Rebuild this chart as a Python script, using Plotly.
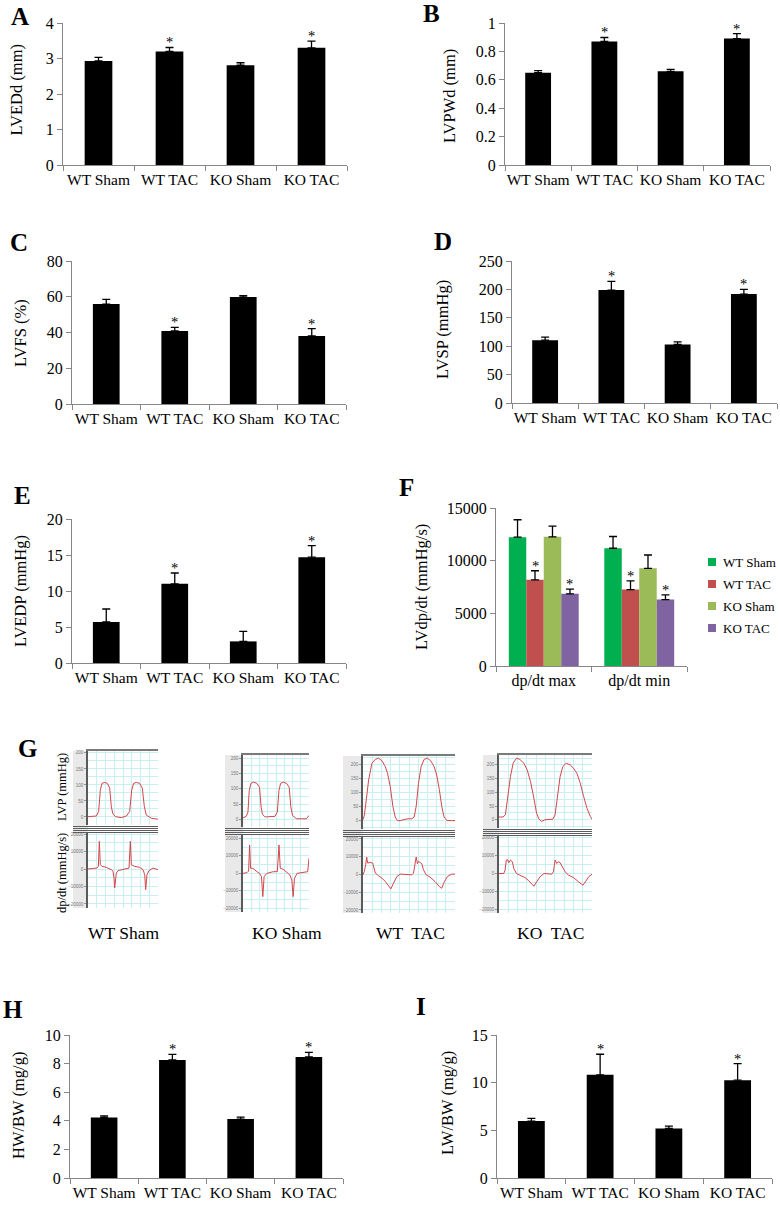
import plotly.graph_objects as go

W, H = 780, 1205
SERIF = "Liberation Serif"
AX = "#868686"
GRID = "#c8eff2"
WAVE = "#d6454a"

# ---------------- data ----------------
groups = ["WT Sham", "WT TAC", "KO Sham", "KO TAC"]
significant = [False, True, False, True]

lvedd = [2.93, 3.20, 2.81, 3.30]
lvedd_err = [0.10, 0.11, 0.07, 0.19]
lvpwd = [0.650, 0.870, 0.660, 0.890]
lvpwd_err = [0.014, 0.028, 0.014, 0.035]
lvfs = [55.9, 40.9, 59.8, 38.1]
lvfs_err = [2.6, 2.0, 0.8, 4.1]
lvsp = [110.6, 198.8, 103.0, 191.8]
lvsp_err = [5.3, 15.2, 4.7, 8.2]
lvedp = [5.7, 11.0, 3.0, 14.7]
lvedp_err = [1.8, 1.5, 1.4, 1.6]
hw_bw = [4.23, 8.26, 4.12, 8.47]
hw_bw_err = [0.12, 0.39, 0.14, 0.32]
lw_bw = [5.97, 10.82, 5.20, 10.26]
lw_bw_err = [0.28, 2.16, 0.24, 1.74]

dpdt_categories = ["dp/dt max", "dp/dt min"]
dpdt_series = ["WT Sham", "WT TAC", "KO Sham", "KO TAC"]
dpdt_colors = ["#00B050", "#C0504D", "#9BBB59", "#8064A2"]
dpdt_wt_sham = [12230, 11180]
dpdt_wt_sham_err = [1655, 1115]
dpdt_wt_tac = [8185, 7260]
dpdt_wt_tac_err = [860, 830]
dpdt_ko_sham = [12260, 9270]
dpdt_ko_sham_err = [1020, 1270]
dpdt_ko_tac = [6850, 6310]
dpdt_ko_tac_err = [445, 445]
dpdt_sig = [[False, False], [True, True], [False, False], [True, True]]

# representative traces (time as fraction of window, LVP in mmHg, dp/dt in mmHg/s)
wt_sham_lvp_t = [0, .119, .152, .176, .2, .238, .276, .310, .333, .357, .395, .476, .548,
                 .595, .624, .652, .690, .738, .776, .805, .833, .905, 1.0]
wt_sham_lvp = [1, 3, 17, 84, 105, 108, 105, 90, 32, 9, 1, -2, 3, 17, 84, 105, 108, 105,
               90, 32, 6, -4, -7]
wt_sham_dp_t = [0, .071, .129, .148, .162, .176, .2, .262, .333, .357, .371, .381, .39, .405,
                .429, .476, .548, .586, .605, .619, .667, .738, .786, .810, .824, .843, .871,
                .929, 1.0]
wt_sham_dp = [0, 190, 571, 1520, 15800, 2480, 1520, 950, -380, -1330, -5140, -10860, -5140,
              -2290, -950, -380, 190, 571, 15800, 2480, 1520, 950, -380, -3240, -11800, -3240,
              -950, 571, -380]

ko_sham_lvp_t = [0, .05, .075, .095, .12, .16, .21, .25, .275, .295, .335, .41, .485, .52,
                 .545, .57, .61, .66, .7, .725, .75, .81, .96, 1.0]
ko_sham_lvp = [5, 10, 24, 95, 118, 122, 118, 105, 40, 16, 8, 8, 10, 24, 95, 118, 122, 118,
               105, 40, 13, 2, 2, 13]
ko_sham_dp_t = [0, .06, .085, .1, .115, .15, .21, .25, .28, .3, .32, .36, .46, .52, .545,
                .565, .61, .675, .71, .74, .76, .78, .82, .98, 1.0]
ko_sham_dp = [0, 380, 1330, 16200, 2860, 2860, 950, 0, -1900, -13300, -1900, 0, 950, 950,
              16200, 2860, 2290, 380, -950, -3800, -13300, -2860, 0, 950, 8570]

wt_tac_lvp_t = [0, .014, .036, .061, .097, .134, .170, .206, .242, .267, .296, .325, .350,
                .375, .404, .440, .477, .531, .556, .578, .603, .632, .664, .700, .736, .773,
                .801, .830, .856, .881, .910, .964, 1.0]
wt_tac_lvp = [4, 18, 75, 146, 206, 220, 224, 215, 194, 170, 123, 51, 13, 0, 0, 4, 6, 7, 13,
              51, 134, 194, 220, 224, 215, 194, 164, 111, 51, 13, 1, 0, 0]
wt_tac_dp_t = [0, .014, .029, .040, .051, .065, .079, .105, .116, .134, .170, .206, .242,
               .278, .303, .332, .368, .404, .477, .531, .549, .567, .578, .592, .603, .621,
               .639, .657, .686, .729, .783, .830, .856, .881, .917, .964, 1.0]
wt_tac_dp = [-190, 1700, 5470, 9810, 6420, 6790, 6790, 6420, 3590, 750, -750, -2080, -3960,
             -6790, -8110, -4910, -1130, 190, -190, -190, 750, 5470, 9810, 6040, 7360, 6790,
             6040, 2640, -190, -1510, -3960, -6790, -7740, -4530, -1130, 190, 190]

ko_tac_lvp_t = [0, .043, .069, .097, .123, .152, .188, .224, .267, .303, .339, .375, .404,
                .430, .458, .495, .549, .578, .603, .628, .657, .686, .722, .765, .801, .838,
                .874, .910, .946, .982, 1.0]
ko_tac_lvp = [10, 10, 18, 85, 157, 206, 224, 220, 206, 182, 139, 79, 24, 2, -6, 0, 0, 2, 18,
              85, 157, 194, 206, 200, 188, 169, 133, 85, 42, 12, 2]
ko_tac_dp_t = [0, .051, .065, .079, .090, .105, .123, .144, .159, .188, .224, .278, .314,
               .350, .375, .404, .440, .484, .531, .567, .585, .603, .621, .639, .657, .682,
               .711, .747, .801, .856, .903, .928, .964, 1.0]
ko_tac_dp = [0, 0, 1870, 7480, 7850, 5980, 7480, 6540, 2800, 0, -930, -2240, -3740, -5980,
             -7100, -4670, -1870, 0, 0, -370, 930, 7480, 5610, 6540, 5980, 3740, 930, -930,
             -2240, -4670, -6540, -4670, -1870, -370]

# ---------------- helpers ----------------
fig = go.Figure()
layout = {}
shapes = []
annotations = []
counter = [0]


def new_n():
    counter[0] += 1
    return counter[0]


def xr(n):
    return "x" if n == 1 else f"x{n}"


def yr(n):
    return "y" if n == 1 else f"y{n}"


def xk(n):
    return "xaxis" if n == 1 else f"xaxis{n}"


def yk(n):
    return "yaxis" if n == 1 else f"yaxis{n}"


def px(x):
    return x / W


def py(y):
    return 1 - y / H


def text(x, y, s, size, bold=False, angle=0, xanchor="center"):
    annotations.append(dict(x=px(x), y=py(y), xref="paper", yref="paper", text=f"<b>{s}</b>" if bold else s,
                            showarrow=False, textangle=angle, xanchor=xanchor, yanchor="middle",
                            font=dict(family=SERIF, size=size, color="black")))


def bar_axes(n, x0, x1, ytop, ybot, ymax, dtick, cats, fsize=15.5):
    layout[xk(n)] = dict(domain=[px(x0), px(x1)], anchor=yr(n), type="category",
                         range=[-0.5, len(cats) - 0.5], tickson="boundaries", ticks="outside",
                         ticklen=5, tickcolor=AX, showline=True, linecolor=AX, linewidth=1,
                         tickangle=0, automargin=False,
                         tickfont=dict(size=fsize, family=SERIF, color="black"), showgrid=False,
                         zeroline=False, fixedrange=True)
    layout[yk(n)] = dict(domain=[py(ybot), py(ytop)], anchor=xr(n), range=[0, ymax], dtick=dtick,
                         tickformat="d" if dtick >= 1 else None, ticks="outside", ticklen=5,
                         tickcolor=AX, showline=True, linecolor=AX, linewidth=1, automargin=False,
                         tickfont=dict(size=16, family=SERIF, color="black"), showgrid=False,
                         zeroline=False, fixedrange=True)


def bar_panel(values, errs, x0, x1, ytop, ybot, ymax, dtick):
    n = new_n()
    fig.add_trace(go.Bar(x=groups, y=values, width=0.39, marker=dict(color="black", line=dict(width=0)),
                         error_y=dict(type="data", symmetric=False, array=errs,
                                      arrayminus=[0] * len(errs), color="black", thickness=1.3, width=4),
                         xaxis=xr(n), yaxis=yr(n), showlegend=False))
    for g, v, e, s in zip(groups, values, errs, significant):
        if s:
            annotations.append(dict(x=g, y=v + e, xref=xr(n), yref=yr(n), text="*", showarrow=False,
                                    yanchor="bottom", yshift=-5,
                                    font=dict(size=14.5, family=SERIF, color="black")))
    bar_axes(n, x0, x1, ytop, ybot, ymax, dtick, groups)


# ---------------- bar panels ----------------
bar_panel(lvedd, lvedd_err, 63, 347, 23, 165, 4, 1)
bar_panel(lvpwd, lvpwd_err, 505, 770, 23, 165, 1, 0.2)
bar_panel(lvfs, lvfs_err, 72, 346, 261, 404, 80, 20)
bar_panel(lvsp, lvsp_err, 512, 777, 261, 403, 250, 50)
bar_panel(lvedp, lvedp_err, 72, 346, 519, 663, 20, 5)
bar_panel(hw_bw, hw_bw_err, 70, 343, 1035, 1178, 10, 2)
bar_panel(lw_bw, lw_bw_err, 497, 772, 1035, 1178, 15, 5)

# ---------------- panel F ----------------
nF = new_n()
series_vals = [dpdt_wt_sham, dpdt_wt_tac, dpdt_ko_sham, dpdt_ko_tac]
series_errs = [dpdt_wt_sham_err, dpdt_wt_tac_err, dpdt_ko_sham_err, dpdt_ko_tac_err]
bw = 0.183
for i, (name, col, vals, errs) in enumerate(zip(dpdt_series, dpdt_colors, series_vals, series_errs)):
    off = -2 * bw + i * bw
    fig.add_trace(go.Bar(x=dpdt_categories, y=vals, width=bw, offset=off, name=name,
                         marker=dict(color=col, line=dict(width=0)),
                         error_y=dict(type="data", symmetric=False, array=errs,
                                      arrayminus=[0] * len(errs), color="black", thickness=1.3, width=4),
                         xaxis=xr(nF), yaxis=yr(nF), showlegend=False))
    for ci, (v, e) in enumerate(zip(vals, errs)):
        if dpdt_sig[i][ci]:
            annotations.append(dict(x=ci + off + bw / 2, y=v + e, xref=xr(nF), yref=yr(nF), text="*",
                                    showarrow=False, yanchor="bottom", yshift=-5,
                                    font=dict(size=14.5, family=SERIF, color="black")))
    # legend entry (square swatch + label), stacked from the top of the key
    ly = 562 + 22 * i
    shapes.append(dict(type="rect", xref="paper", yref="paper", x0=px(708), x1=px(716),
                       y0=py(ly + 4), y1=py(ly - 4), fillcolor=col, line=dict(width=0)))
    text(721, ly, name, 13, xanchor="left")
bar_axes(nF, 496, 687, 508, 666, 15000, 5000, dpdt_categories, fsize=16)

# ---------------- panel G ----------------
g_panels = [
    dict(label="WT Sham", lx=124, strip=73, x0=88, x1=158, top=751, sep=825, bot=908,
         lvp=(wt_sham_lvp_t, wt_sham_lvp), dp=(wt_sham_dp_t, wt_sham_dp),
         lvp_range=[-25, 206], dp_range=[-22300, 20600], xd=0.125),
    dict(label="KO Sham", lx=287, strip=225, x0=243, x1=309, top=755, sep=827, bot=912,
         lvp=(ko_sham_lvp_t, ko_sham_lvp), dp=(ko_sham_dp_t, ko_sham_dp),
         lvp_range=[-25, 211], dp_range=[-22100, 21900], xd=0.125),
    dict(label="WT  TAC", lx=410, strip=343, x0=363, x1=455, top=756, sep=829, bot=913,
         lvp=(wt_tac_lvp_t, wt_tac_lvp), dp=(wt_tac_dp_t, wt_tac_dp),
         lvp_range=[-30, 232], dp_range=[-21700, 21100], xd=0.1),
    dict(label="KO  TAC", lx=550, strip=483, x0=499, x1=592, top=755, sep=828, bot=913,
         lvp=(ko_tac_lvp_t, ko_tac_lvp), dp=(ko_tac_dp_t, ko_tac_dp),
         lvp_range=[-30, 236], dp_range=[-22000, 20900], xd=0.1),
]

for gp in g_panels:
    shapes.append(dict(type="rect", xref="paper", yref="paper", x0=px(gp["strip"]), x1=px(gp["x0"]),
                       y0=py(gp["bot"]), y1=py(gp["top"]), fillcolor="#e9e9e9", line=dict(width=0),
                       layer="below"))
    for k, (area_top, area_bot, rng, series, major, minor, is_top) in enumerate([
        (gp["top"], gp["sep"], gp["lvp_range"], gp["lvp"], 50, 25, True),
        (gp["sep"] + 8, gp["bot"], gp["dp_range"], gp["dp"], 10000, 5000, False),
    ]):
        n = new_n()
        fig.add_trace(go.Scatter(x=series[0], y=series[1], mode="lines",
                                 line=dict(color=WAVE, width=1), xaxis=xr(n), yaxis=yr(n),
                                 showlegend=False))
        layout[xk(n)] = dict(domain=[px(gp["x0"]), px(gp["x1"])], anchor=yr(n), range=[0, 1],
                             dtick=gp["xd"], showticklabels=False, ticks="", showgrid=True,
                             gridcolor=GRID, gridwidth=1, zeroline=False, showline=is_top,
                             side="top", linecolor="#7a7a7a", linewidth=1.5, fixedrange=True,
                             automargin=False)
        layout[yk(n)] = dict(domain=[py(area_bot), py(area_top)], anchor=xr(n), range=rng,
                             tick0=0, dtick=major, tickformat="d", ticks="outside", ticklen=2,
                             tickcolor="#999", tickfont=dict(size=4.5, color="#777", family="Liberation Sans"),
                             showgrid=True, gridcolor=GRID, gridwidth=1,
                             minor=dict(dtick=minor, tick0=0, showgrid=True, gridcolor=GRID, ticks=""),
                             zeroline=False, showline=True, linecolor="#5a5a5a", linewidth=1.5,
                             fixedrange=True, automargin=False)
    for j in range(4):
        yy = gp["sep"] + 1.5 + j * 2
        shapes.append(dict(type="line", xref="paper", yref="paper", x0=px(gp["strip"]), x1=px(gp["x1"]),
                           y0=py(yy), y1=py(yy), line=dict(color="#5c5c5c", width=1)))
    text(gp["lx"], 933, gp["label"], 17.5)

# ---------------- titles and letters ----------------
text(16.5, 90, "LVEDd (mm)", 16.5, angle=-90)
text(450, 96, "LVPWd (mm)", 16.5, angle=-90)
text(20, 333, "LVFS (%)", 16.5, angle=-90)
text(442, 330, "LVSP (mmHg)", 16.5, angle=-90)
text(20, 591, "LVEDP (mmHg)", 16.5, angle=-90)
text(421, 587, "LVdp/dt (mmHg/s)", 16.5, angle=-90)
text(18, 1106, "HW/BW (mg/g)", 16.5, angle=-90)
text(447, 1103, "LW/BW (mg/g)", 16.5, angle=-90)
text(62, 787, "LVP (mmHg)", 12.5, angle=-90)
text(62, 873, "dp/dt (mmHg/s)", 12.5, angle=-90)

for letter, x, y in [("A", 20, 17), ("B", 431, 14), ("C", 19, 243), ("D", 443, 242),
                     ("E", 22, 495), ("F", 406, 487), ("G", 28, 748), ("H", 13, 1009),
                     ("I", 421, 1006)]:
    text(x, y, letter, 25, bold=True)

fig.update_layout(
    width=W, height=H, autosize=False,
    margin=dict(l=0, r=0, t=0, b=0, autoexpand=False),
    paper_bgcolor="white", plot_bgcolor="white",
    barmode="overlay",
    font=dict(family=SERIF, color="black"),
    showlegend=False,
    shapes=shapes,
    annotations=annotations,
    **layout,
)

fig.write_html("out.html", config={"displayModeBar": False},
               post_script="document.body.style.margin='0px';document.body.style.padding='0px';")
